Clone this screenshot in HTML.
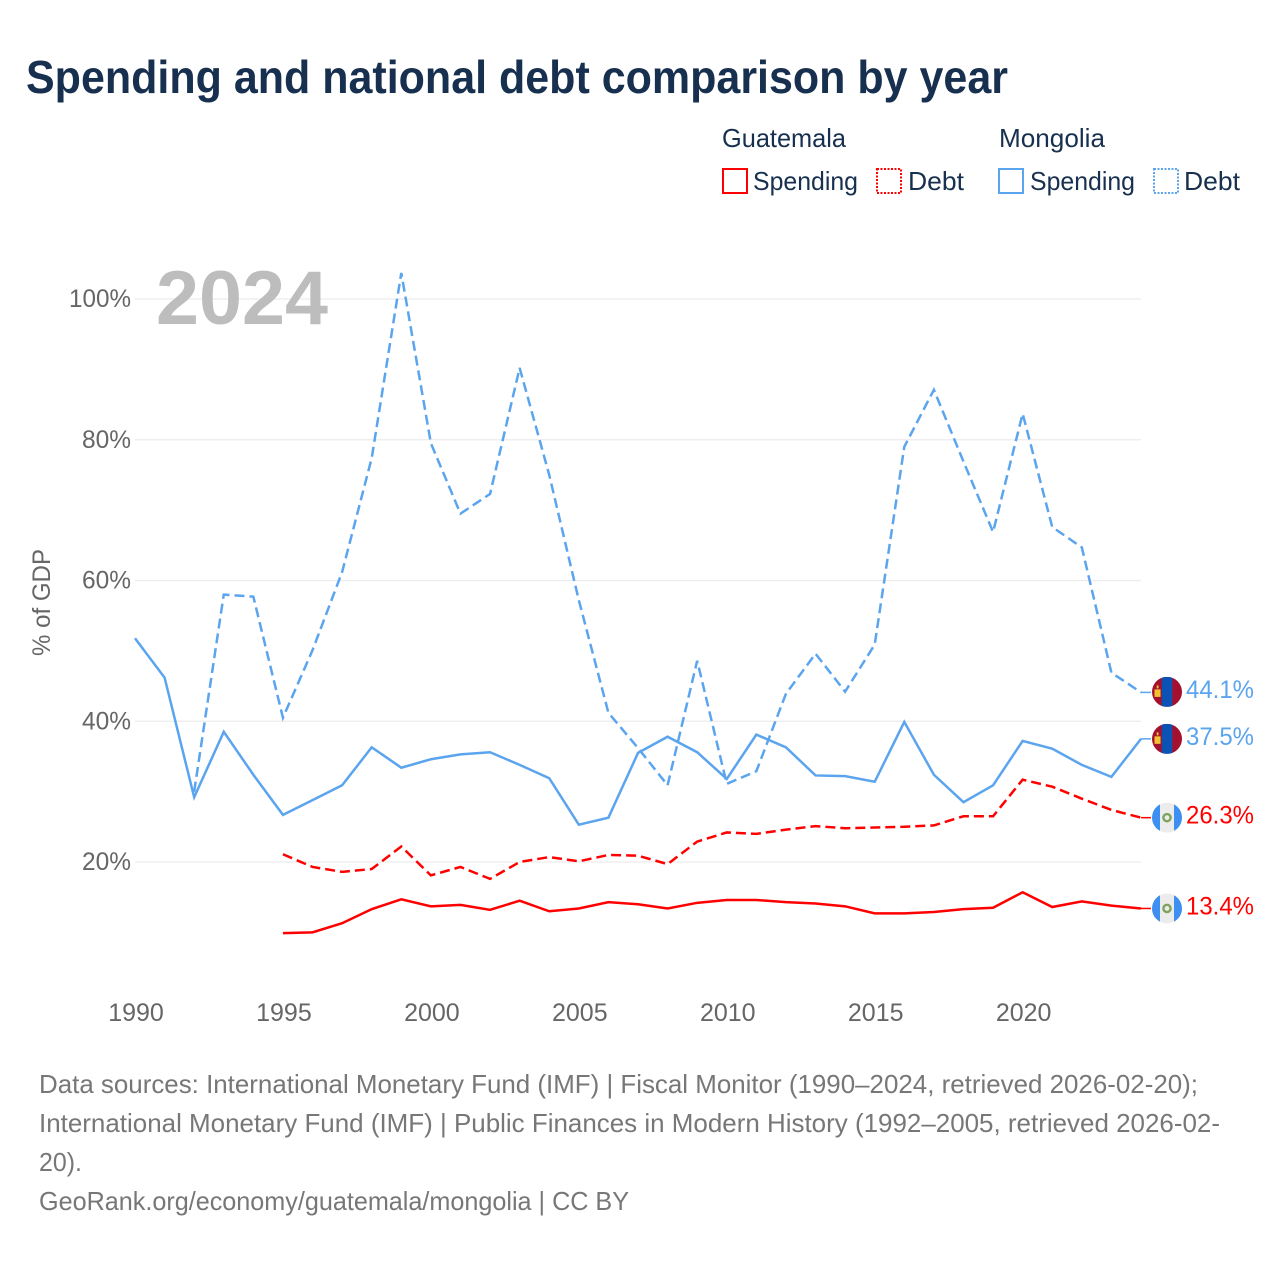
<!DOCTYPE html>
<html lang="en">
<head>
<meta charset="utf-8">
<title>Spending and national debt comparison by year</title>
<style>
html,body{margin:0;padding:0;background:#fff;}
svg{display:block;font-family:"Liberation Sans",sans-serif;}
</style>
</head>
<body>
<svg id="chart" xmlns="http://www.w3.org/2000/svg" width="1280" height="1280" viewBox="0 0 1280 1280">
  <rect width="1280" height="1280" fill="#ffffff"/>
  <text x="26" y="93" font-size="46" font-weight="700" fill="#18304f" textLength="982" lengthAdjust="spacingAndGlyphs">Spending and national debt comparison by year</text>

  <g font-size="26" fill="#18304f">
    <text x="722" y="147" textLength="124" lengthAdjust="spacingAndGlyphs">Guatemala</text>
    <text x="999" y="147" textLength="106" lengthAdjust="spacingAndGlyphs">Mongolia</text>
    <rect x="723" y="169" width="24" height="24" fill="none" stroke="#ff0000" stroke-width="2"/>
    <text x="753" y="190" textLength="105" lengthAdjust="spacingAndGlyphs">Spending</text>
    <rect x="877" y="169" width="24" height="24" fill="none" stroke="#ff0000" stroke-width="2" stroke-dasharray="2 1.5"/>
    <text x="908" y="190" textLength="56" lengthAdjust="spacingAndGlyphs">Debt</text>
    <rect x="999" y="169" width="24" height="24" fill="none" stroke="#5ba4ee" stroke-width="2"/>
    <text x="1030" y="190" textLength="105" lengthAdjust="spacingAndGlyphs">Spending</text>
    <rect x="1154" y="169" width="24" height="24" fill="none" stroke="#5ba4ee" stroke-width="2" stroke-dasharray="2 1.5"/>
    <text x="1184" y="190" textLength="56" lengthAdjust="spacingAndGlyphs">Debt</text>
  </g>

  <g id="grid"></g>
  <g id="yticks"></g>
  <g id="xticks"></g>
  <text transform="translate(50 656) rotate(-90)" font-size="25" fill="#666666" textLength="107" lengthAdjust="spacingAndGlyphs">% of GDP</text>
  <text x="156" y="324" font-size="76" font-weight="700" fill="#bdbdbd" textLength="172" lengthAdjust="spacingAndGlyphs">2024</text>

  <g id="series"></g>

  <g id="end-labels"></g>

  <g font-size="26" fill="#777777">
    <text x="39" y="1093" textLength="1159" lengthAdjust="spacingAndGlyphs">Data sources: International Monetary Fund (IMF) | Fiscal Monitor (1990–2024, retrieved 2026-02-20);</text>
    <text x="39" y="1132" textLength="1181" lengthAdjust="spacingAndGlyphs">International Monetary Fund (IMF) | Public Finances in Modern History (1992–2005, retrieved 2026-02-</text>
    <text x="39" y="1171" textLength="43" lengthAdjust="spacingAndGlyphs">20).</text>
    <text x="39" y="1210" textLength="590" lengthAdjust="spacingAndGlyphs">GeoRank.org/economy/guatemala/mongolia | CC BY</text>
  </g>
</svg>
<script>
const NS = 'http://www.w3.org/2000/svg';
const years = [1990,1991,1992,1993,1994,1995,1996,1997,1998,1999,2000,2001,2002,2003,2004,2005,2006,2007,2008,2009,2010,2011,2012,2013,2014,2015,2016,2017,2018,2019,2020,2021,2022,2023,2024];
const mongoliaSpending = [51.8,46.2,29.2,38.5,32.4,26.7,28.8,30.9,36.3,33.4,34.6,35.3,35.6,33.8,31.9,25.3,26.3,35.5,37.8,35.6,31.8,38.1,36.3,32.3,32.2,31.4,39.9,32.4,28.5,30.9,37.2,36.1,33.8,32.1,37.5];
const mongoliaDebt = [null,null,30.0,58.0,57.7,40.5,50.1,61.2,77.4,103.7,79.5,69.5,72.3,90.2,75.0,57.2,41.2,36.2,30.9,48.6,31.1,32.9,43.9,49.6,44.2,50.9,79.0,87.1,76.9,66.9,83.7,67.6,64.7,46.9,44.1];
const guatemalaSpending = [null,null,null,null,null,9.9,10.0,11.3,13.3,14.7,13.7,13.9,13.2,14.5,13.0,13.4,14.3,14.0,13.4,14.2,14.6,14.6,14.3,14.1,13.7,12.7,12.7,12.9,13.3,13.5,15.7,13.6,14.4,13.8,13.4];
const guatemalaDebt = [null,null,null,null,null,21.1,19.3,18.6,19.0,22.2,18.1,19.3,17.6,20.0,20.7,20.1,21.0,20.9,19.7,22.9,24.2,24.0,24.6,25.1,24.8,24.9,25.0,25.2,26.5,26.5,31.7,30.7,29.0,27.4,26.3];
const yTickValues = [20,40,60,80,100];
const xTickValues = [1990,1995,2000,2005,2010,2015,2020];

const BLUE = '#5ba4ee';
const RED = '#ff0000';
function xScale(year){ return 135 + (year - 1990) * (1141 - 135) / 34; }
function yScale(v){ return 862 - (v - 20) * (862 - 299) / 80; }

function svgEl(tag, attrs, parent){
  const el = document.createElementNS(NS, tag);
  for (const k in attrs) el.setAttribute(k, attrs[k]);
  parent.appendChild(el);
  return el;
}

const gridG = document.getElementById('grid');
const yG = document.getElementById('yticks');
const xG = document.getElementById('xticks');
const seriesG = document.getElementById('series');
const endG = document.getElementById('end-labels');

yTickValues.forEach(function(v){
  const line = svgEl('line', {x1:135, x2:1141, y1:yScale(v), y2:yScale(v), stroke:'#ececec', 'stroke-width':1.2}, gridG);
  
  
  const label = v + '%';
  const t = svgEl('text', {x:131, y:yScale(v) + 8, 'text-anchor':'end', 'font-size':25, fill:'#666666', textLength:(label.length > 3 ? 62 : 49), lengthAdjust:'spacingAndGlyphs'}, yG);
  
  
  t.textContent = label;
});

xTickValues.forEach(function(y){
  const t = svgEl('text', {x:xScale(y) + 1, y:1021, 'text-anchor':'middle', 'font-size':25, fill:'#666666'}, xG);
  
  
  t.textContent = String(y);
});

function drawSeries(values, color, dashed, name){
  let d = '';
  let started = false;
  values.forEach(function(v, i){
    if (v === null) { started = false; return; }
    d += (started ? 'L' : 'M') + xScale(years[i]).toFixed(2) + ' ' + yScale(v).toFixed(2);
    started = true;
  });
  const attrs = {d:d, fill:'none', stroke:color, 'stroke-width':2.5, 'stroke-linejoin':'miter'};
  if (dashed) attrs['stroke-dasharray'] = '10 5';
  const p = svgEl('path', attrs, seriesG);
  
  
}
drawSeries(mongoliaDebt, BLUE, true, 'line-mongolia-debt');
drawSeries(mongoliaSpending, BLUE, false, 'line-mongolia-spending');
drawSeries(guatemalaDebt, RED, true, 'line-guatemala-debt');
drawSeries(guatemalaSpending, RED, false, 'line-guatemala-spending');

function drawFlag(country, cx, cy, parent){
  const r = 15;
  const clipId = 'clip-' + country + '-' + Math.round(cy * 10);
  const defs = svgEl('defs', {}, parent);
  const cp = svgEl('clipPath', {id:clipId}, defs);
  svgEl('circle', {cx:cx, cy:cy, r:r}, cp);
  const g = svgEl('g', {'clip-path':'url(#' + clipId + ')'}, parent);
  
  
  if (country === 'mongolia') {
    svgEl('rect', {x:cx - r, y:cy - r, width:2 * r, height:2 * r, fill:'#a5102e'}, g);
    svgEl('rect', {x:cx - 5.3, y:cy - r, width:10.6, height:2 * r, fill:'#0b52b4'}, g);
    svgEl('rect', {x:cx - 12.5, y:cy - 2.5, width:6, height:7.5, fill:'#f2c230'}, g);
    svgEl('rect', {x:cx - 10.3, y:cy - 6.5, width:1.8, height:3, fill:'#f2c230'}, g);
  } else {
    svgEl('rect', {x:cx - r, y:cy - r, width:2 * r, height:2 * r, fill:'#ececec'}, g);
    svgEl('rect', {x:cx - r, y:cy - r, width:8, height:2 * r, fill:'#3d8ff2'}, g);
    svgEl('rect', {x:cx + 7, y:cy - r, width:8, height:2 * r, fill:'#3d8ff2'}, g);
    svgEl('circle', {cx:cx, cy:cy, r:3.6, fill:'none', stroke:'#7ea35c', 'stroke-width':2.4}, g);
  }
}

function drawEnd(values, color, country, key, cy){
  const v = values[values.length - 1];
  const yEnd = yScale(v);
  const conn = svgEl('line', {x1:1141, x2:1151, y1:yEnd, y2:yEnd, stroke:color, 'stroke-width':1.5}, endG);
  
  
  drawFlag(country, 1167, cy, endG);
  const t = svgEl('text', {x:1186, y:cy + 6, 'font-size':25, fill:color, textLength:68, lengthAdjust:'spacingAndGlyphs'}, endG);
  
  
  t.textContent = v.toFixed(1) + '%';
}
drawEnd(mongoliaDebt, BLUE, 'mongolia', 'mongolia-debt', yScale(44.1) - 0.5);
drawEnd(mongoliaSpending, BLUE, 'mongolia', 'mongolia-spending', yScale(37.5));
drawEnd(guatemalaDebt, RED, 'guatemala', 'guatemala-debt', yScale(26.3));
drawEnd(guatemalaSpending, RED, 'guatemala', 'guatemala-spending', yScale(13.4));
</script>
</body>
</html>
